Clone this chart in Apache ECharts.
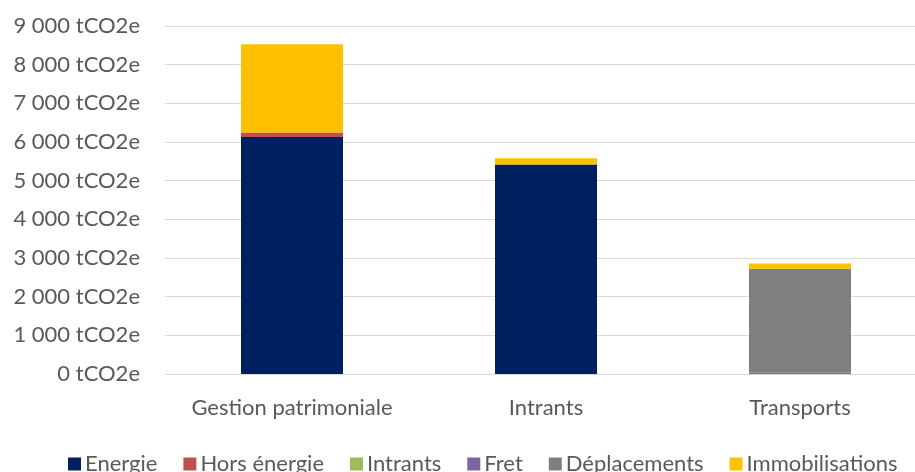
<!DOCTYPE html>
<html>
<head>
<meta charset="utf-8">
<script src="https://cdn.jsdelivr.net/npm/echarts@6/dist/echarts.min.js"></script>
<style>
  html, body { margin: 0; padding: 0; background: #fff; }
  #chart { width: 915px; height: 472px; }
</style>
</head>
<body>
<div id="chart"></div>
<script>
// Émissions par poste (tCO2e)
const categories = ['Gestion patrimoniale', 'Intrants', 'Transports'];
const energie = [6130, 5420, 0];
const horsEnergie = [115, 0, 0];
const intrants = [0, 0, 0];
const fret = [0, 0, 40];
const deplacements = [0, 0, 2680];
const immobilisations = [2285, 160, 140];

const seriesNames = ['Energie', 'Hors énergie', 'Intrants', 'Fret', 'Déplacements', 'Immobilisations'];
const seriesData = [energie, horsEnergie, intrants, fret, deplacements, immobilisations];
const colors = ['#002060', '#C0504D', '#9BBB59', '#8064A2', '#7F7F7F', '#FFC000'];

const FONT = 'Lato, "Open Sans", sans-serif';
const TEXT = '#595959';

function fmt(v) {
  return String(v).replace(/\B(?=(\d{3})+(?!\d))/g, ' ') + ' tCO2e';
}

const chart = echarts.init(document.getElementById('chart'), null, { renderer: 'canvas' });
chart.setOption({
  animation: false,
  color: colors,
  grid: { left: 165, top: 26, width: 762, height: 348, containLabel: false, outerBoundsMode: 'none' },
  legend: {
    left: 63,
    top: 448,
    itemWidth: 13,
    itemHeight: 13,
    itemGap: 26,
    icon: 'rect',
    textStyle: { fontFamily: FONT, fontSize: 22, color: TEXT, padding: [0, 0, 0, -1] },
    data: seriesNames
  },
  xAxis: {
    type: 'category',
    data: categories,
    axisLine: { lineStyle: { color: '#d9d9d9' } },
    axisTick: { show: false },
    axisLabel: { interval: 0, hideOverlap: false, fontFamily: FONT, fontSize: 22, color: TEXT, margin: 23 }
  },
  yAxis: {
    type: 'value',
    min: 0,
    max: 9000,
    interval: 1000,
    axisLine: { show: false },
    axisTick: { show: false },
    splitLine: { lineStyle: { color: '#d9d9d9' } },
    axisLabel: { fontFamily: FONT, fontSize: 22, color: TEXT, margin: 25, formatter: fmt }
  },
  series: seriesNames.map((name, i) => ({
    name: name,
    type: 'bar',
    stack: 'total',
    barWidth: 102,
    data: seriesData[i]
  }))
});
</script>
</body>
</html>
